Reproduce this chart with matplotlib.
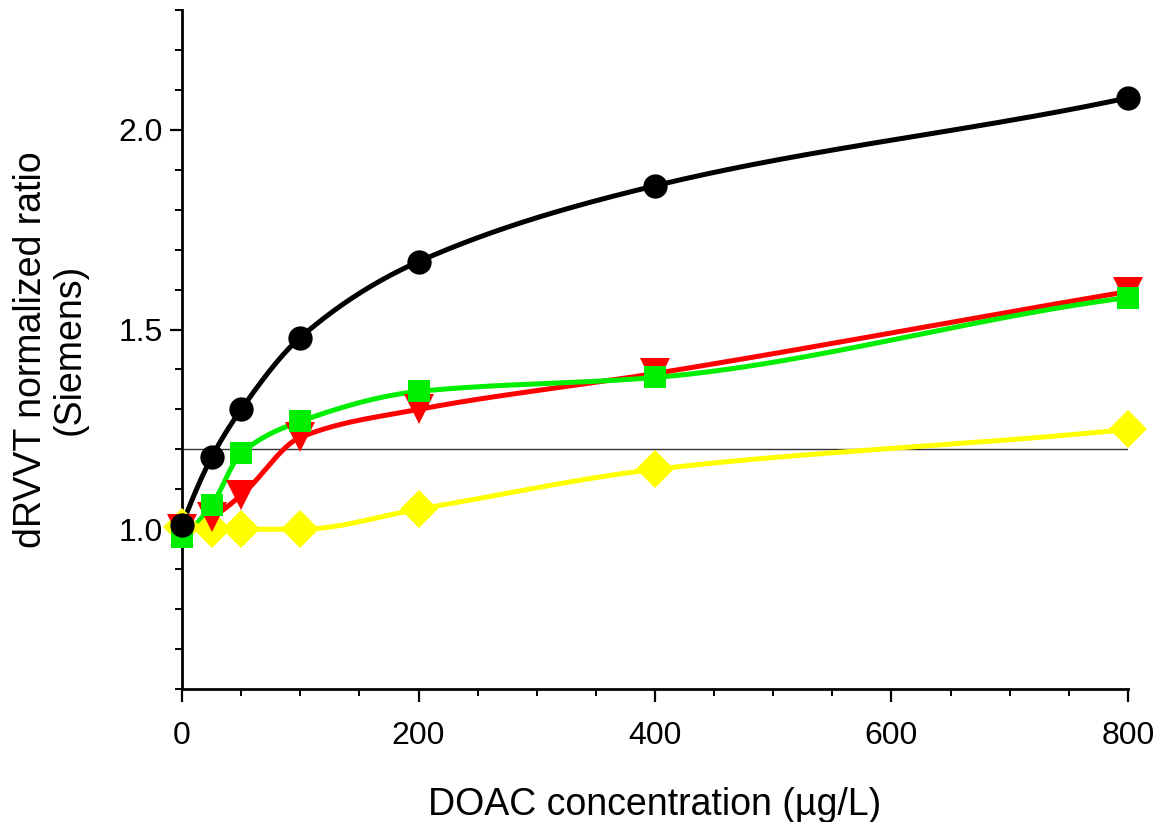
import numpy as np
import matplotlib
matplotlib.use("Agg")
import matplotlib.pyplot as plt
from matplotlib.ticker import MultipleLocator, FormatStrFormatter

plt.rcParams['font.family'] = ['Liberation Sans', 'DejaVu Sans']

# DOAC concentration (ug/L) and dRVVT normalized ratios
conc = [0, 25, 50, 100, 200, 400, 800]
black_vals = [1.01, 1.18, 1.30, 1.48, 1.67, 1.86, 2.08]
red_vals = [1.00, 1.03, 1.085, 1.23, 1.30, 1.39, 1.595]
green_vals = [0.98, 1.06, 1.19, 1.27, 1.345, 1.38, 1.58]
yellow_vals = [1.005, 1.00, 1.00, 1.00, 1.05, 1.15, 1.25]
cutoff = 1.2


def smooth(x, y, n=400):
    # monotone cubic (pchip) curve through the points
    x = np.asarray(x, float)
    y = np.asarray(y, float)
    h = np.diff(x)
    delta = np.diff(y) / h
    m = len(x)
    d = np.zeros(m)
    for i in range(1, m - 1):
        if delta[i - 1] * delta[i] > 0:
            w1 = 2 * h[i] + h[i - 1]
            w2 = h[i] + 2 * h[i - 1]
            d[i] = (w1 + w2) / (w1 / delta[i - 1] + w2 / delta[i])
    # end slopes
    s0 = ((2 * h[0] + h[1]) * delta[0] - h[0] * delta[1]) / (h[0] + h[1])
    d[0] = s0 if np.sign(s0) == np.sign(delta[0]) else 0
    d[-1] = 0.5 * (delta[-1] + d[-2])
    xs = np.linspace(x[0], x[-1], n)
    k = np.clip(np.searchsorted(x, xs) - 1, 0, m - 2)
    t = (xs - x[k]) / h[k]
    h00 = 2 * t ** 3 - 3 * t ** 2 + 1
    h10 = t ** 3 - 2 * t ** 2 + t
    h01 = -2 * t ** 3 + 3 * t ** 2
    h11 = t ** 3 - t ** 2
    ys = h00 * y[k] + h10 * h[k] * d[k] + h01 * y[k + 1] + h11 * h[k] * d[k + 1]
    return xs, ys


fig = plt.figure(figsize=(11.64, 8.22), dpi=100)
ax = fig.add_axes([0.1564, 0.1618, 0.8126, 0.826])

ax.axhline(cutoff, color='#333333', lw=1.0, zorder=1)

series = [
    (yellow_vals, '#ffff00', 'D', 19),
    (red_vals, '#ff0000', 'v', 21),
    (green_vals, '#00ee00', 's', 16.5),
    (black_vals, 'black', 'o', 17.5),
]
for z, (vals, col, mk, ms) in enumerate(series):
    xs, ys = smooth(conc, vals)
    ax.plot(xs, ys, color=col, lw=3.6, zorder=2 + z, clip_on=False)
    ax.plot(conc, vals, ls='none', marker=mk, ms=ms, color=col,
            markeredgewidth=0, zorder=6 + z, clip_on=False)

ax.set_xlim(0, 800)
ax.set_ylim(0.6, 2.3)
ax.xaxis.set_major_locator(MultipleLocator(200))
ax.xaxis.set_minor_locator(MultipleLocator(50))
ax.set_yticks([1.0, 1.5, 2.0])
ax.yaxis.set_minor_locator(MultipleLocator(0.1))
ax.yaxis.set_major_formatter(FormatStrFormatter('%.1f'))

for s in ['top', 'right']:
    ax.spines[s].set_visible(False)
for s in ['left', 'bottom']:
    ax.spines[s].set_linewidth(2)

ax.tick_params(which='major', length=9, width=1.6, labelsize=23, pad=5)
ax.tick_params(which='minor', length=5, width=1.4)
ax.tick_params(axis='x', pad=14)

ax.set_xlabel('DOAC concentration (\u00b5g/L)', fontsize=27, labelpad=26)
ax.set_ylabel('dRVVT normalized ratio\n(Siemens)', fontsize=27,
              labelpad=22, linespacing=1.1)

fig.savefig('out.png', dpi=100)
